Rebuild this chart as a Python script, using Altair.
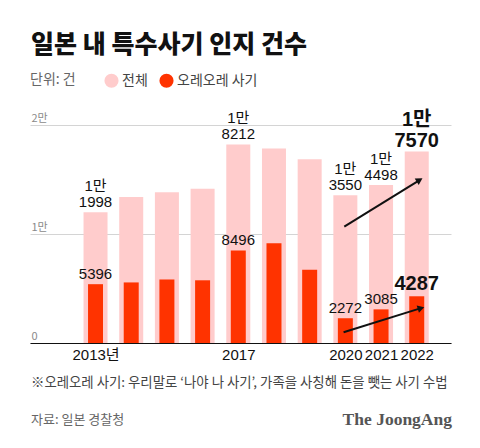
import altair as alt
import pandas as pd

# ---- data ----
years = [2013, 2014, 2015, 2016, 2017, 2018, 2019, 2020, 2021, 2022]
total = [11998, 13392, 13824, 14154, 18212, 17844, 16851, 13550, 14498, 17570]
oreore = [5396, 5557, 5828, 5753, 8496, 9145, 6725, 2272, 3085, 4287]
total_labels = ["1만\n1998", "", "", "", "1만\n8212", "", "", "1만\n3550", "1만\n4498", "1만\n7570"]
oreore_labels = ["5396", "", "", "", "8496", "", "", "2272", "3085", "4287"]
highlight = [False] * 9 + [True]
series_names = ["전체", "오레오레 사기"]
series_colors = ["#FFCCCC", "#FF3300"]
x_tick_years = [2013, 2017, 2020, 2021, 2022]
y_ticks = [0, 10000, 20000]

# trend arrows (start, tip) in data units
arrow_ids = ["total", "total", "oreore", "oreore"]
arrow_years = [2019.97, 2022.08, 2019.95, 2022.12]
arrow_values = [10670, 14950, 980, 3200]
arrow_angles = [329, 343]

title_text = "일본 내 특수사기 인지 건수"
note_text = "※오레오레 사기: 우리말로 ‘나야 나 사기’, 가족을 사칭해 돈을 뺏는 사기 수법"
source_text = "자료: 일본 경찰청"
brand_text = "The JoongAng"

KR = "Noto Sans CJK KR"
NUM = "Liberation Sans, Noto Sans CJK KR"

df = pd.DataFrame({
    "year": years * 2,
    "series": [series_names[0]] * 10 + [series_names[1]] * 10,
    "value": total + oreore,
    "label": total_labels + oreore_labels,
    "hl": highlight * 2,
})

arrows = pd.DataFrame({"arrow": arrow_ids, "year": arrow_years, "value": arrow_values})
heads = pd.DataFrame({
    "arrow": ["total", "oreore"],
    "year": [arrow_years[1], arrow_years[3]],
    "value": [arrow_values[1], arrow_values[3]],
    "ang": arrow_angles,
})

x_enc = alt.X(
    "year:Q",
    scale=alt.Scale(domain=[2011.304, 2022.82], nice=False, zero=False),
    axis=alt.Axis(
        values=x_tick_years,
        labelExpr="datum.value == 2013 ? '2013년' : '' + datum.value",
        ticks=False, tickSize=0, grid=False,
        domainColor="#111111", domainWidth=1.2,
        labelFontSize=15, labelColor="#111111", labelFont=NUM,
        labelPadding=4, labelFlush=False, labelOverlap=False,
        title=None, zindex=1,
    ),
)
y_enc = alt.Y(
    "value:Q",
    scale=alt.Scale(domain=[0, 20000], nice=False),
    axis=alt.Axis(
        values=y_ticks,
        labelExpr="datum.value == 0 ? '0' : (datum.value / 10000) + '만'",
        grid=True, gridColor="#d4d4d4", gridWidth=1,
        domain=False, ticks=False, tickSize=0,
        labelAlign="left", labelBaseline="bottom", labelPadding=-1, labelOffset=-2,
        labelColor="#8a8a8a", labelFontSize=11, labelFont=KR,
        title=None,
    ),
)
color_enc = alt.Color(
    "series:N",
    scale=alt.Scale(domain=series_names, range=series_colors),
    legend=alt.Legend(
        title="단위: 건", orient="none", legendX=0, legendY=-52,
        direction="horizontal", titleOrient="left",
        symbolType="circle", symbolSize=200, symbolStrokeWidth=0, symbolOpacity=1,
        titleFontSize=14, titleFontWeight="normal", titleColor="#666666", titleFont=KR,
        labelFontSize=14, labelColor="#444444", labelFont=KR,
        titlePadding=28, columnPadding=11, labelOffset=3,
    ),
)

base = alt.Chart(df)

bars_total = base.transform_filter(alt.datum.series == series_names[0]).mark_bar(size=24).encode(
    x=x_enc, y=y_enc, color=color_enc
)
bars_ore = base.transform_filter(alt.datum.series == series_names[1]).mark_bar(size=15).encode(
    x=x_enc, y=y_enc, color=color_enc
)

lab_total = base.transform_filter(
    (alt.datum.series == series_names[0]) & (alt.datum.label != "") & (~alt.datum.hl)
).mark_text(baseline="bottom", dy=-18, fontSize=15, lineBreak="\n", lineHeight=16,
            font=NUM, color="#111111").encode(x=x_enc, y=y_enc, text="label:N")
lab_total_hl = base.transform_filter(
    (alt.datum.series == series_names[0]) & alt.datum.hl
).mark_text(baseline="bottom", dy=-21, fontSize=20, fontWeight="bold", lineBreak="\n", lineHeight=21,
            font=NUM, color="#111111").encode(x=x_enc, y=y_enc, text="label:N")
lab_ore = base.transform_filter(
    (alt.datum.series == series_names[1]) & (alt.datum.label != "") & (~alt.datum.hl)
).mark_text(baseline="bottom", dy=-2, fontSize=15, font=NUM, color="#111111").encode(
    x=x_enc, y=y_enc, text="label:N")
lab_ore_hl = base.transform_filter(
    (alt.datum.series == series_names[1]) & alt.datum.hl
).mark_text(baseline="bottom", dy=-2, fontSize=20, fontWeight="bold", font=NUM, color="#111111").encode(
    x=x_enc, y=y_enc, text="label:N")

arrow_lines = alt.Chart(arrows).mark_line(color="#111111", strokeWidth=2).encode(
    x=x_enc, y=y_enc, detail="arrow:N"
)
arrow_heads = alt.layer(*[
    alt.Chart(heads).transform_filter(alt.datum.arrow == a).mark_point(
        shape="triangle-right", filled=True, size=60, color="#111111", opacity=1, angle=ang
    ).encode(x=x_enc, y=y_enc)
    for a, ang in zip(["total", "oreore"], arrow_angles)
])

texts = pd.DataFrame({"t": [title_text]})
title = alt.Chart(texts).mark_text(
    align="left", baseline="middle", fontSize=25, fontWeight=900, font=KR, color="#111111"
).encode(x=alt.value(1), y=alt.value(-80), text="t:N")

note = alt.Chart(pd.DataFrame({"t": [note_text]})).mark_text(
    align="left", baseline="middle", fontSize=13.4, font=KR, color="#444444"
).encode(x=alt.value(1), y=alt.value(258), text="t:N")
source = alt.Chart(pd.DataFrame({"t": [source_text]})).mark_text(
    align="left", baseline="middle", fontSize=13, font=KR, color="#666666"
).encode(x=alt.value(1), y=alt.value(295), text="t:N")
brand = alt.Chart(pd.DataFrame({"t": [brand_text]})).mark_text(
    align="right", baseline="middle", fontSize=17.5, fontWeight="bold", font="Liberation Serif",
    color="#555555"
).encode(x=alt.value(422), y=alt.value(295), text="t:N")

chart = alt.layer(
    bars_total, bars_ore, lab_total, lab_total_hl, lab_ore, lab_ore_hl,
    arrow_lines, arrow_heads, title, note, source, brand
).properties(
    width=421, height=218,
    autosize=alt.AutoSizeParams(type="none"),
    padding={"left": 22, "top": 117, "right": 21, "bottom": 105},
    background="white",
).configure_view(stroke=None)

chart.save("out.html", embed_options={"renderer": "svg", "actions": False})
